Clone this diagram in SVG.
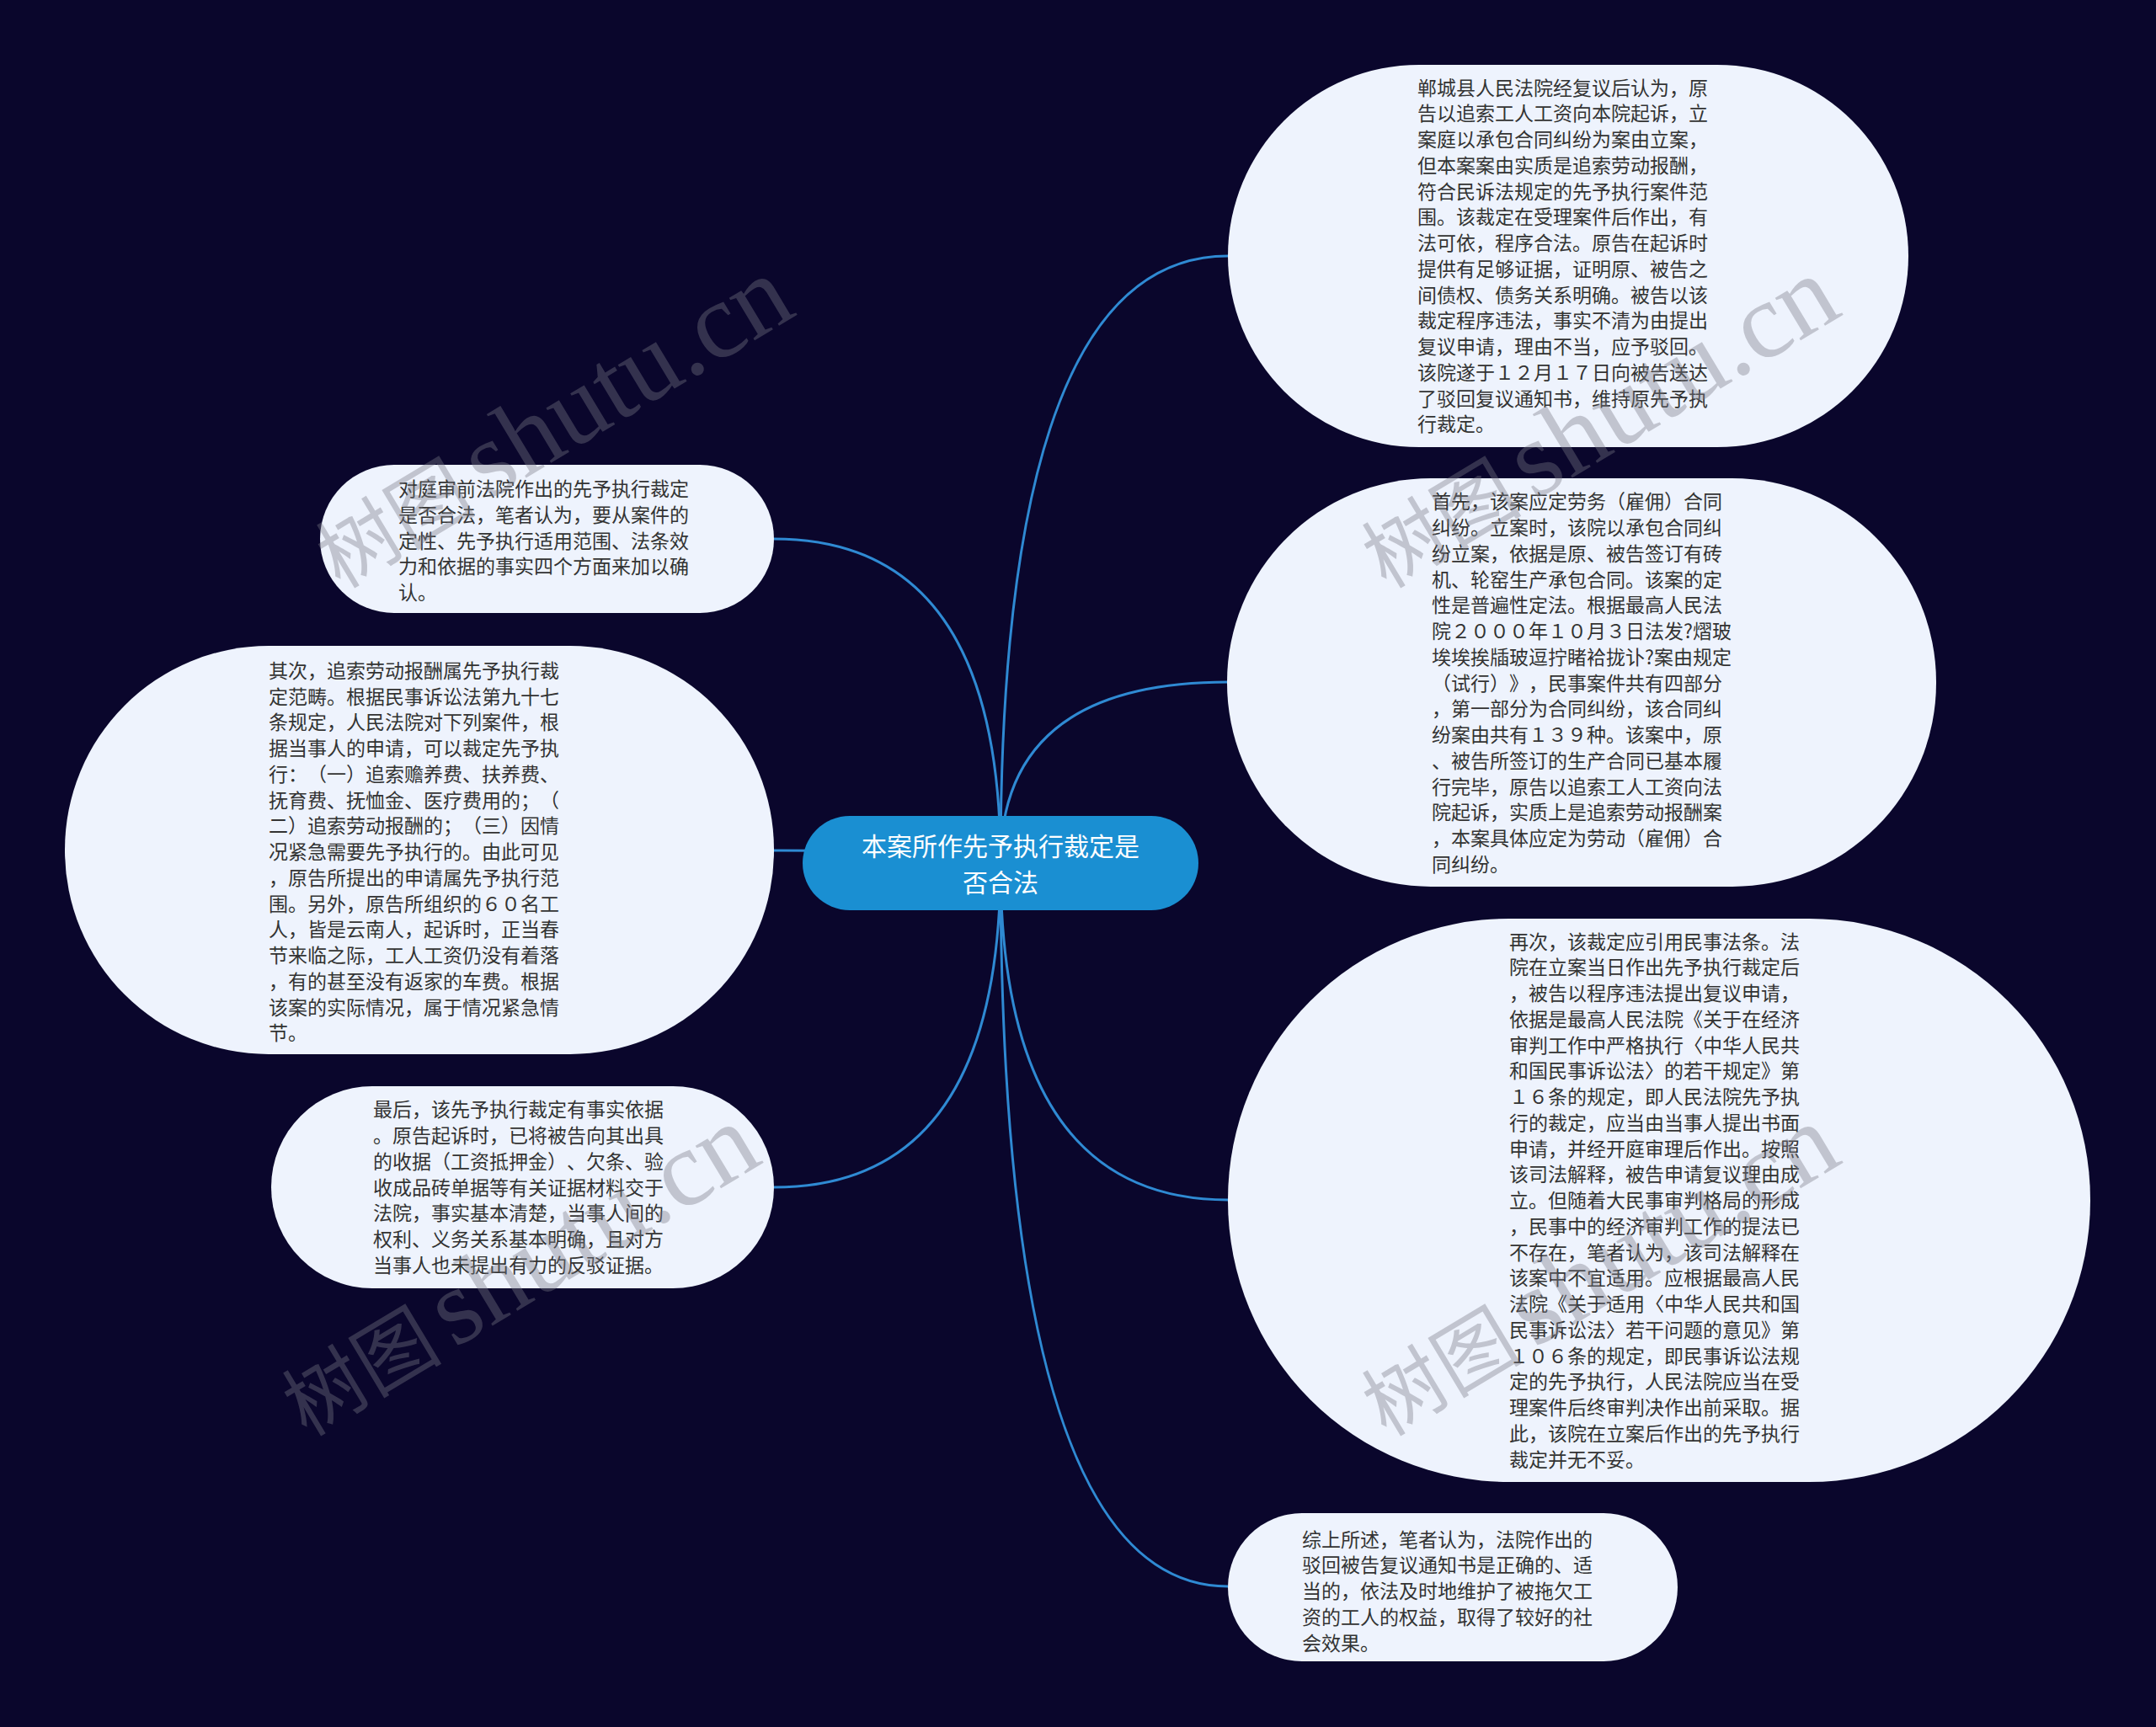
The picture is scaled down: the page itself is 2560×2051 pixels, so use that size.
<svg xmlns="http://www.w3.org/2000/svg" width="2560" height="2051" viewBox="0 0 2560 2051">
<style>
.bg{fill:#0a062c}
.node{fill:#eef3fd}
.root{fill:#1a8fd2}
.t{font-family:"Noto Sans CJK SC","Noto Sans",sans-serif;font-size:23px;fill:#333333;text-spacing-trim:space-all;font-feature-settings:"halt" 0,"chws" 0}
.rt{font-family:"Noto Sans CJK SC","Noto Sans",sans-serif;font-size:30px;fill:#ffffff;text-anchor:middle}
.link{fill:none;stroke:#2f8ad3;stroke-width:3}
.wm{font-family:"Liberation Serif","Noto Sans CJK SC",serif;fill:#7a7a86;opacity:0.38}
</style>
<rect class="bg" x="0" y="0" width="2560" height="2051"/>
<g id="connectors">
<path class="link" d="M1188 1025 Q1188 304 1458 304"/>
<path class="link" d="M1188 1025 Q1188 810 1458 810"/>
<path class="link" d="M1188 1025 Q1188 1425 1458 1425"/>
<path class="link" d="M1188 1025 Q1188 1884 1458 1884"/>
<path class="link" d="M1188 1025 Q1188 640 919 640"/>
<path class="link" d="M1188 1025 Q1188 1010 919 1010"/>
<path class="link" d="M1188 1025 Q1188 1410 919 1410"/>
</g>
<g id="node-r1">
<rect class="node" x="1458" y="77" width="808" height="454" rx="227"/>
<text class="t" x="1683" y="112.5"><tspan x="1683">郸城县人民法院经复议后认为，原</tspan><tspan x="1683" dy="30.75">告以追索工人工资向本院起诉，立</tspan><tspan x="1683" dy="30.75">案庭以承包合同纠纷为案由立案，</tspan><tspan x="1683" dy="30.75">但本案案由实质是追索劳动报酬，</tspan><tspan x="1683" dy="30.75">符合民诉法规定的先予执行案件范</tspan><tspan x="1683" dy="30.75">围。该裁定在受理案件后作出，有</tspan><tspan x="1683" dy="30.75">法可依，程序合法。原告在起诉时</tspan><tspan x="1683" dy="30.75">提供有足够证据，证明原、被告之</tspan><tspan x="1683" dy="30.75">间债权、债务关系明确。被告以该</tspan><tspan x="1683" dy="30.75">裁定程序违法，事实不清为由提出</tspan><tspan x="1683" dy="30.75">复议申请，理由不当，应予驳回。</tspan><tspan x="1683" dy="30.75">该院遂于１２月１７日向被告送达</tspan><tspan x="1683" dy="30.75">了驳回复议通知书，维持原先予执</tspan><tspan x="1683" dy="30.75">行裁定。</tspan></text>
</g>
<g id="node-r2">
<rect class="node" x="1457" y="568" width="842" height="485" rx="242"/>
<text class="t" x="1700" y="604.25"><tspan x="1700">首先，该案应定劳务（雇佣）合同</tspan><tspan x="1700" dy="30.75">纠纷。立案时，该院以承包合同纠</tspan><tspan x="1700" dy="30.75">纷立案，依据是原、被告签订有砖</tspan><tspan x="1700" dy="30.75">机、轮窑生产承包合同。该案的定</tspan><tspan x="1700" dy="30.75">性是普遍性定法。根据最高人民法</tspan><tspan x="1700" dy="30.75">院２０００年１０月３日法发?熠玻</tspan><tspan x="1700" dy="30.75">埃埃挨牐玻逗拧睹袷拢讣?案由规定</tspan><tspan x="1700" dy="30.75">（试行）》，民事案件共有四部分</tspan><tspan x="1700" dy="30.75">，第一部分为合同纠纷，该合同纠</tspan><tspan x="1700" dy="30.75">纷案由共有１３９种。该案中，原</tspan><tspan x="1700" dy="30.75">、被告所签订的生产合同已基本履</tspan><tspan x="1700" dy="30.75">行完毕，原告以追索工人工资向法</tspan><tspan x="1700" dy="30.75">院起诉，实质上是追索劳动报酬案</tspan><tspan x="1700" dy="30.75">，本案具体应定为劳动（雇佣）合</tspan><tspan x="1700" dy="30.75">同纠纷。</tspan></text>
</g>
<g id="node-r3">
<rect class="node" x="1458" y="1091" width="1024" height="669" rx="334"/>
<text class="t" x="1792" y="1126.5"><tspan x="1792">再次，该裁定应引用民事法条。法</tspan><tspan x="1792" dy="30.75">院在立案当日作出先予执行裁定后</tspan><tspan x="1792" dy="30.75">，被告以程序违法提出复议申请，</tspan><tspan x="1792" dy="30.75">依据是最高人民法院《关于在经济</tspan><tspan x="1792" dy="30.75">审判工作中严格执行〈中华人民共</tspan><tspan x="1792" dy="30.75">和国民事诉讼法〉的若干规定》第</tspan><tspan x="1792" dy="30.75">１６条的规定，即人民法院先予执</tspan><tspan x="1792" dy="30.75">行的裁定，应当由当事人提出书面</tspan><tspan x="1792" dy="30.75">申请，并经开庭审理后作出。按照</tspan><tspan x="1792" dy="30.75">该司法解释，被告申请复议理由成</tspan><tspan x="1792" dy="30.75">立。但随着大民事审判格局的形成</tspan><tspan x="1792" dy="30.75">，民事中的经济审判工作的提法已</tspan><tspan x="1792" dy="30.75">不存在，笔者认为，该司法解释在</tspan><tspan x="1792" dy="30.75">该案中不宜适用。应根据最高人民</tspan><tspan x="1792" dy="30.75">法院《关于适用〈中华人民共和国</tspan><tspan x="1792" dy="30.75">民事诉讼法〉若干问题的意见》第</tspan><tspan x="1792" dy="30.75">１０６条的规定，即民事诉讼法规</tspan><tspan x="1792" dy="30.75">定的先予执行，人民法院应当在受</tspan><tspan x="1792" dy="30.75">理案件后终审判决作出前采取。据</tspan><tspan x="1792" dy="30.75">此，该院在立案后作出的先予执行</tspan><tspan x="1792" dy="30.75">裁定并无不妥。</tspan></text>
</g>
<g id="node-r4">
<rect class="node" x="1458" y="1797" width="534" height="176" rx="88"/>
<text class="t" x="1546" y="1836.5"><tspan x="1546">综上所述，笔者认为，法院作出的</tspan><tspan x="1546" dy="30.75">驳回被告复议通知书是正确的、适</tspan><tspan x="1546" dy="30.75">当的，依法及时地维护了被拖欠工</tspan><tspan x="1546" dy="30.75">资的工人的权益，取得了较好的社</tspan><tspan x="1546" dy="30.75">会效果。</tspan></text>
</g>
<g id="node-l1">
<rect class="node" x="380" y="552" width="539" height="176" rx="88"/>
<text class="t" x="473" y="589"><tspan x="473">对庭审前法院作出的先予执行裁定</tspan><tspan x="473" dy="30.75">是否合法，笔者认为，要从案件的</tspan><tspan x="473" dy="30.75">定性、先予执行适用范围、法条效</tspan><tspan x="473" dy="30.75">力和依据的事实四个方面来加以确</tspan><tspan x="473" dy="30.75">认。</tspan></text>
</g>
<g id="node-l2">
<rect class="node" x="77" y="767" width="842" height="485" rx="242"/>
<text class="t" x="319" y="804.75"><tspan x="319">其次，追索劳动报酬属先予执行裁</tspan><tspan x="319" dy="30.75">定范畴。根据民事诉讼法第九十七</tspan><tspan x="319" dy="30.75">条规定，人民法院对下列案件，根</tspan><tspan x="319" dy="30.75">据当事人的申请，可以裁定先予执</tspan><tspan x="319" dy="30.75">行：（一）追索赡养费、扶养费、</tspan><tspan x="319" dy="30.75">抚育费、抚恤金、医疗费用的；（</tspan><tspan x="319" dy="30.75">二）追索劳动报酬的；（三）因情</tspan><tspan x="319" dy="30.75">况紧急需要先予执行的。由此可见</tspan><tspan x="319" dy="30.75">，原告所提出的申请属先予执行范</tspan><tspan x="319" dy="30.75">围。另外，原告所组织的６０名工</tspan><tspan x="319" dy="30.75">人，皆是云南人，起诉时，正当春</tspan><tspan x="319" dy="30.75">节来临之际，工人工资仍没有着落</tspan><tspan x="319" dy="30.75">，有的甚至没有返家的车费。根据</tspan><tspan x="319" dy="30.75">该案的实际情况，属于情况紧急情</tspan><tspan x="319" dy="30.75">节。</tspan></text>
</g>
<g id="node-l3">
<rect class="node" x="322" y="1290" width="597" height="240" rx="120"/>
<text class="t" x="443" y="1326.25"><tspan x="443">最后，该先予执行裁定有事实依据</tspan><tspan x="443" dy="30.75">。原告起诉时，已将被告向其出具</tspan><tspan x="443" dy="30.75">的收据（工资抵押金）、欠条、验</tspan><tspan x="443" dy="30.75">收成品砖单据等有关证据材料交于</tspan><tspan x="443" dy="30.75">法院，事实基本清楚，当事人间的</tspan><tspan x="443" dy="30.75">权利、义务关系基本明确，且对方</tspan><tspan x="443" dy="30.75">当事人也未提出有力的反驳证据。</tspan></text>
</g>
<g id="node-root">
<rect class="root" x="953" y="969" width="470" height="112" rx="56"/>
<text class="rt" x="1188" y="1016"><tspan x="1188">本案所作先予执行裁定是</tspan><tspan x="1188" dy="42.5">否合法</tspan></text>
</g>
<g id="watermarks">
<g transform="translate(404 700) rotate(-31)"><text class="wm" x="0" y="0" font-size="95">树图</text><text class="wm" x="205" y="0" font-size="128">shutu.cn</text></g>
<g transform="translate(1646 700) rotate(-31)"><text class="wm" x="0" y="0" font-size="95">树图</text><text class="wm" x="205" y="0" font-size="128">shutu.cn</text></g>
<g transform="translate(364 1707) rotate(-31)"><text class="wm" x="0" y="0" font-size="95">树图</text><text class="wm" x="205" y="0" font-size="128">shutu.cn</text></g>
<g transform="translate(1646 1707) rotate(-31)"><text class="wm" x="0" y="0" font-size="95">树图</text><text class="wm" x="205" y="0" font-size="128">shutu.cn</text></g>
</g>
</svg>
